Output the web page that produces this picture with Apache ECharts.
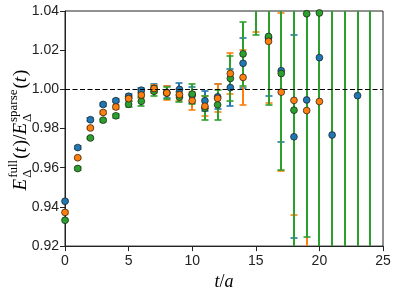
<!DOCTYPE html>
<html>
<head>
<meta charset="utf-8">
<script src="https://cdn.jsdelivr.net/npm/echarts@6/dist/echarts.min.js"></script>
<style>
html,body{margin:0;padding:0;background:#fff;}
#chart{width:398px;height:296px;}
</style>
</head>
<body>
<div id="chart"></div>
<script>
// ---- data ----
const tValues = [0,1,2,3,4,5,6,7,8,9,10,11,12,13,14,15,16,17,18,19,20,21,22,23,24];
const blueVal   = [0.9429,0.9703,0.9845,0.9923,0.9942,0.9965,0.9996,1.0005,0.9985,1.0000,0.9970,0.9942,0.9962,1.0009,1.0133,1.0650,1.0263,1.0095,0.9758,0.9946,1.0162,0.9767,1.0900,0.9968,1.0900];
const blueErr   = [0.0006,0.0006,0.0007,0.0008,0.0009,0.0010,0.0012,0.0020,0.0030,0.0030,0.0040,0.0050,0.0064,0.0094,0.0127,0.0200,0.0297,0.0362,0.0517,0.0900,0.1200,0.0900,0.0400,0.0900,0.0400];
const orangeVal = [0.9372,0.9651,0.9803,0.9882,0.9910,0.9953,0.9971,1.0004,0.9982,0.9973,0.9942,0.9914,0.9954,1.0081,1.0061,1.0520,1.0245,0.9986,0.9944,0.9892,0.9938,1.0900,1.0900,1.0900,1.0900];
const orangeErr = [0.0006,0.0006,0.0007,0.0008,0.0009,0.0012,0.0015,0.0020,0.0036,0.0030,0.0045,0.0050,0.0072,0.0103,0.0140,0.0226,0.0316,0.0403,0.0587,0.0800,0.0900,0.0400,0.0400,0.0400,0.0400];
const greenVal  = [0.9332,0.9596,0.9752,0.9843,0.9865,0.9924,0.9939,0.9990,0.9980,0.9960,0.9976,0.9904,0.9921,1.0056,1.0181,1.0580,1.0270,1.0081,0.9894,1.0386,1.0390,1.0800,1.1000,1.1000,1.1000];
const greenErr  = [0.0006,0.0006,0.0007,0.0008,0.0009,0.0015,0.0024,0.0025,0.0030,0.0026,0.0050,0.0060,0.0076,0.0115,0.0162,0.0302,0.0351,0.0493,0.1500,0.1142,0.3000,0.3000,0.3000,0.3000,0.3000];
const yTicks = [0.92,0.94,0.96,0.98,1.00,1.02,1.04];
const xTicks = [0,5,10,15,20,25];
const refLineValue = 1.0;

const COLORS = {blue:'#1f77b4', orange:'#ff7f0e', green:'#2ca02c'};
const sansFont = '"Liberation Sans", Arial, sans-serif';
const serifFont = '"Liberation Serif", "DejaVu Serif", serif';

function errData(vals, errs){ return tValues.map((t,i)=>[t, vals[i]-errs[i], vals[i]+errs[i]]); }
function ptData(vals){ return tValues.map((t,i)=>[t, vals[i]]); }

function errSeries(name, vals, errs, color){
  return {
    type:'custom', name:name+' err', clip:true, z:2, silent:true,
    data: errData(vals, errs),
    renderItem: function(params, api){
      const x = api.value(0);
      const top = api.coord([x, api.value(2)]);
      const bot = api.coord([x, api.value(1)]);
      const cx = Math.round(top[0]);
      const ty = Math.round(top[1]), by = Math.round(bot[1]);
      const hw = 3.5;
      const st = {stroke:color, lineWidth:2};
      const cs = {stroke:color, lineWidth:1.6};
      return {type:'group', children:[
        {type:'line', shape:{x1:cx,y1:ty,x2:cx,y2:by}, style:st},
        {type:'line', shape:{x1:cx-hw,y1:ty,x2:cx+hw,y2:ty}, style:cs},
        {type:'line', shape:{x1:cx-hw,y1:by,x2:cx+hw,y2:by}, style:cs}
      ]};
    }
  };
}
function ptSeries(name, vals, color){
  return {
    type:'scatter', name:name, clip:true, z:3, silent:true,
    symbol:'circle', symbolSize:6.8,
    itemStyle:{color:color, borderColor:'#1a1a1a', borderWidth:0.7, opacity:1},
    data: ptData(vals)
  };
}

// y-axis label built as rotated group of text pieces
function buildYLabel(){
  const ctx = document.createElement('canvas').getContext('2d');
  const mainSize = 19, scrSize = 13;
  const pieces = [
    {t:'E', it:true}, {sup:'full', sub:'\u0394'},
    {t:'(', it:false}, {t:'t', it:true}, {t:')/', it:false},
    {t:'E', it:true}, {sup:'sparse', sub:'\u0394'},
    {t:'(', it:false}, {t:'t', it:true}, {t:')', it:false}
  ];
  const children = [];
  let x = 0;
  function fnt(size, it){ return (it?'italic ':'') + size + 'px ' + serifFont; }
  pieces.forEach(p=>{
    if (p.t !== undefined){
      const f = fnt(mainSize, p.it);
      ctx.font = f;
      const w = ctx.measureText(p.t).width;
      children.push({type:'text', x:x, y:0, style:{text:p.t, font:f, fill:'#000', align:'left', verticalAlign:'middle', textAlign:'left', textVerticalAlign:'middle'}});
      x += w + (p.it ? 1 : 0);
    } else {
      const f = fnt(scrSize, false);
      ctx.font = f;
      const w1 = ctx.measureText(p.sup).width;
      const w2 = ctx.measureText(p.sub).width;
      children.push({type:'text', x:x, y:-7.5, style:{text:p.sup, font:f, fill:'#000', align:'left', verticalAlign:'middle', textAlign:'left', textVerticalAlign:'middle'}});
      children.push({type:'text', x:x, y:6.5, style:{text:p.sub, font:f, fill:'#000', align:'left', verticalAlign:'middle', textAlign:'left', textVerticalAlign:'middle'}});
      x += Math.max(w1, w2) + 1;
    }
  });
  const total = x;
  return {type:'group', rotation:Math.PI/2, x:21, y:130 + total/2, children:children, silent:true};
}

const chart = echarts.init(document.getElementById('chart'), null, {renderer:'canvas'});
const option = {
  animation:false,
  backgroundColor:'#ffffff',
  grid:{left:65, right:15, top:11, bottom:48, show:true, borderColor:'#222', borderWidth:1, backgroundColor:'transparent'},
  xAxis:{
    type:'value', min:xTicks[0], max:xTicks[xTicks.length-1], interval:5,
    axisLine:{show:true, lineStyle:{color:'#222', width:1}},
    axisTick:{show:true, length:5, lineStyle:{color:'#222'}},
    axisLabel:{color:'#222', fontSize:14, fontFamily:sansFont, margin:8, formatter:v=>String(v)},
    splitLine:{show:false},
    name:'{i|t}{r|/}{i|a}', nameLocation:'middle', nameGap:17,
    nameTextStyle:{rich:{i:{fontFamily:serifFont, fontStyle:'italic', fontSize:18, color:'#000'}, r:{fontFamily:serifFont, fontSize:18, color:'#000'}}}
  },
  yAxis:{
    type:'value', min:yTicks[0], max:yTicks[yTicks.length-1], interval:0.02,
    axisLine:{show:true, lineStyle:{color:'#222', width:1}},
    axisTick:{show:true, length:5, lineStyle:{color:'#222'}},
    axisLabel:{color:'#222', fontSize:14, fontFamily:sansFont, margin:6, formatter:v=>v.toFixed(2)},
    splitLine:{show:false}
  },
  graphic:[buildYLabel()],
  series:[
    errSeries('blue', blueVal, blueErr, COLORS.blue),
    errSeries('orange', orangeVal, orangeErr, COLORS.orange),
    errSeries('green', greenVal, greenErr, COLORS.green),
    ptSeries('blue', blueVal, COLORS.blue),
    ptSeries('green', greenVal, COLORS.green),
    ptSeries('orange', orangeVal, COLORS.orange),
    {
      type:'line', name:'ref', data:[], z:5, silent:true,
      markLine:{silent:true, symbol:['none','none'], label:{show:false},
        lineStyle:{color:'#000', type:[5,2.5], width:1},
        data:[{yAxis:refLineValue}]}
    }
  ]
};
chart.setOption(option);
</script>
</body>
</html>
